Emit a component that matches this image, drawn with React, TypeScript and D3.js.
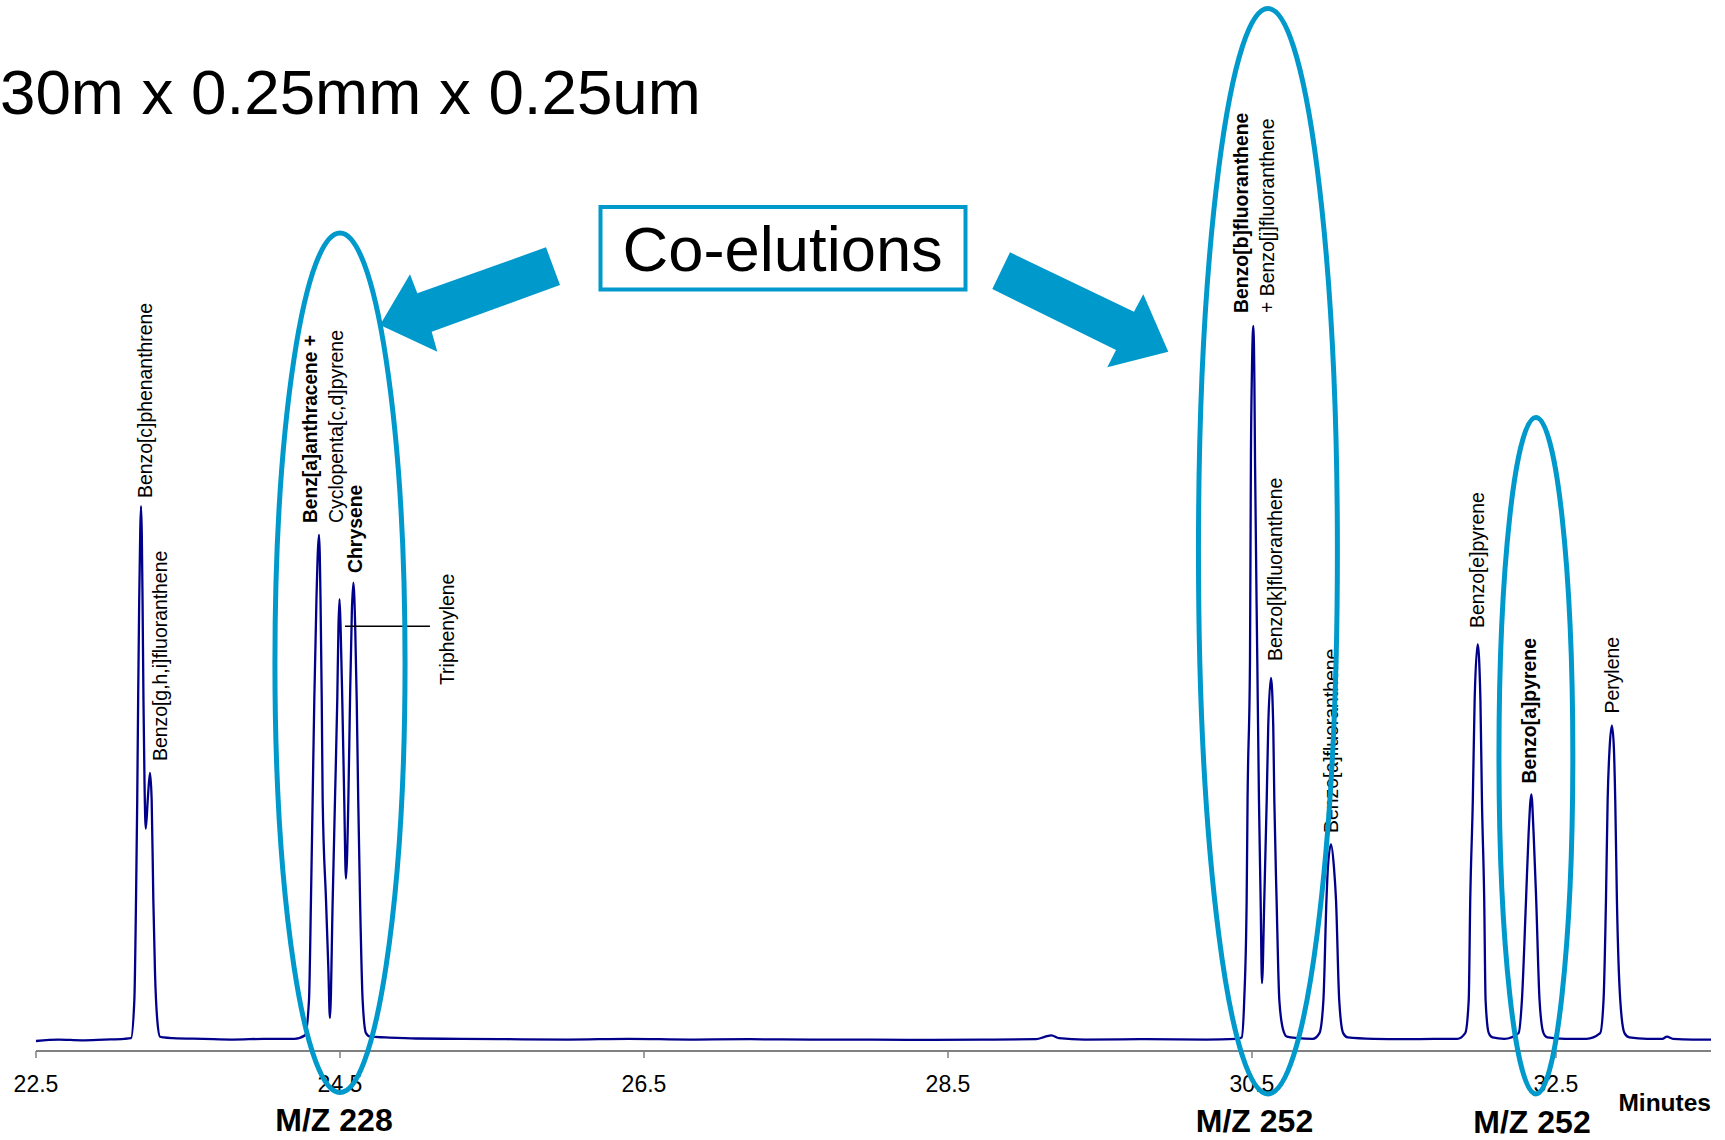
import React from 'react';
import * as d3 from 'd3';

// ---------- DATA ----------
const traceMinutes = [
  22.5, 22.65, 22.8, 22.95, 23.08,
  23.125, 23.147, 23.158, 23.166, 23.172, 23.179, 23.186, 23.191, 23.196, 23.201, 23.207, 23.214, 23.222,
  23.236, 23.25, 23.261, 23.272, 23.283, 23.298, 23.316, 23.34, 23.4, 23.6, 23.8, 24.0, 24.2,
  24.27, 24.296, 24.309, 24.32, 24.331, 24.345, 24.362, 24.372, 24.38, 24.386, 24.408, 24.423, 24.434,
  24.452, 24.467, 24.482, 24.49, 24.497, 24.505, 24.515, 24.528, 24.539,
  24.555, 24.566, 24.578, 24.588, 24.6, 24.61, 24.62, 24.632, 24.649, 24.671, 24.7, 24.8,
  25.0, 25.3, 25.6, 26.0, 26.4, 26.8, 27.2, 27.6, 28.0, 28.4, 28.8, 29.08, 29.14, 29.18, 29.23, 29.4, 29.8, 30.2, 30.4,
  30.432, 30.449, 30.465, 30.471, 30.487, 30.493, 30.5, 30.509, 30.516, 30.52, 30.535, 30.546, 30.557, 30.566,
  30.581, 30.597, 30.607, 30.625, 30.64, 30.647, 30.662, 30.68, 30.706, 30.73, 30.8, 30.9,
  30.944, 30.97, 30.99, 31.0, 31.02, 31.039, 31.053, 31.074, 31.1, 31.13, 31.3, 31.5, 31.7, 31.85,
  31.903, 31.926, 31.936, 31.953, 31.965, 31.985, 32.003, 32.013, 32.028, 32.037, 32.058, 32.083, 32.16,
  32.254, 32.276, 32.303, 32.32, 32.338, 32.353, 32.37, 32.392, 32.418, 32.443, 32.56, 32.7,
  32.791, 32.813, 32.829, 32.84, 32.853, 32.868, 32.881, 32.89, 32.901, 32.923, 32.951, 32.983,
  33.1, 33.2, 33.23, 33.27, 33.4, 33.52,
];
const traceSignal = [
  0.0, 0.2, 0.1, 0.2, 0.3,
  0.4, 5.7, 19.7, 33.7, 47.7, 61.7, 71.5, 74.8, 71.0, 61.7, 47.7, 36.0, 29.7,
  34.0, 37.5, 33.7, 19.7, 9.5, 2.9, 0.6, 0.5, 0.4, 0.3, 0.2, 0.3, 0.3,
  0.8, 5.7, 19.7, 33.7, 47.7, 61.7, 70.8, 61.7, 47.7, 33.7, 19.7, 10.4, 3.2,
  19.7, 33.7, 47.7, 58.0, 61.8, 57.0, 47.7, 33.7, 22.7,
  33.7, 47.7, 60.0, 64.1, 58.0, 47.7, 33.7, 19.7, 5.7, 1.1, 0.6, 0.5,
  0.35, 0.3, 0.25, 0.2, 0.3, 0.2, 0.25, 0.2, 0.2, 0.15, 0.2, 0.25, 0.6, 0.8, 0.4, 0.2, 0.25, 0.2, 0.3,
  0.5, 5.7, 19.7, 33.7, 53.3, 81.3, 94.0, 100.0, 92.0, 81.3, 53.3, 33.7, 19.7, 8.1,
  19.7, 33.7, 44.0, 50.8, 44.0, 33.7, 19.7, 5.7, 1.5, 0.6, 0.4, 0.3,
  1.1, 5.7, 19.7, 24.4, 27.5, 24.4, 19.7, 5.7, 1.1, 0.5, 0.3, 0.25, 0.3, 0.3,
  1.1, 5.7, 19.7, 33.7, 47.7, 55.5, 47.7, 33.7, 19.7, 5.7, 1.1, 0.5, 0.3,
  1.1, 5.7, 19.7, 29.0, 34.5, 29.0, 19.7, 5.7, 1.1, 0.5, 0.3, 0.3,
  1.1, 5.7, 19.7, 33.7, 41.0, 44.1, 41.0, 33.7, 19.7, 5.7, 1.1, 0.5,
  0.3, 0.3, 0.6, 0.3, 0.2, 0.2,
];

const tickValues = [22.5, 24.5, 26.5, 28.5, 30.5, 32.5];
const tickLabels = ['22.5', '24.5', '26.5', '28.5', '30.5', '32.5'];

const peakLabels = [
  'Benzo[c]phenanthrene',
  'Benzo[g,h,i]fluoranthene',
  'Benz[a]anthracene +',
  'Cyclopenta[c,d]pyrene',
  'Chrysene',
  'Triphenylene',
  'Benzo[b]fluoranthene',
  '+ Benzo[j]fluoranthene',
  'Benzo[k]fluoranthene',
  'Benzo[a]fluoranthene',
  'Benzo[e]pyrene',
  'Benzo[a]pyrene',
  'Perylene',
];
const peakLabelBold = [false, false, true, false, true, false, true, false, false, false, false, true, false];

const massLabels = ['M/Z 228', 'M/Z 252', 'M/Z 252'];
const titleText = '30m x 0.25mm x 0.25um';
const calloutText = 'Co-elutions';
const axisTitle = 'Minutes';

// ---------- LAYOUT ----------
const W = 1725;
const H = 1140;
const FONT = "'Liberation Sans', Arial, Helvetica, sans-serif";
const TRACE = '#00008a';
const CYAN = '#0099cc';
const AXIS_Y = 1051;

// rotated label anchors: [x of baseline, y of text start]
const labelPos: [number, number][] = [
  [152, 498],
  [166.5, 761],
  [316.5, 523],
  [343, 523],
  [362, 573],
  [454, 685],
  [1247.5, 313],
  [1273.5, 313],
  [1282, 661],
  [1338, 833],
  [1483.5, 628],
  [1536, 783.5],
  [1618.5, 713.5],
];
const labelLen: (number | null)[] = [null, null, 188, null, null, null, null, null, null, null, null, null, null];

// ellipses in data units: [centre minutes, half-width minutes, centre signal, half-height signal]
const ellipses: [number, number, number, number][] = [
  [24.5, 0.428, 52.9, 60.1],
  [30.605, 0.457, 68.5, 75.9],
  [32.368, 0.243, 39.9, 47.3],
];

const massPos: [number, number][] = [
  [334, 1131],
  [1254.5, 1132],
  [1532, 1133],
];

const leftArrow = [[546, 247.3], [560, 285], [431.7, 331.7], [437.3, 351.7], [380, 325], [410, 274.3], [417.3, 293.3]];
const rightArrow = [[1010, 252.3], [992.3, 289], [1116, 350], [1107.3, 367.3], [1168.3, 351.7], [1143.3, 294.3], [1134, 311.7]];

export default function App() {
  const x = d3.scaleLinear().domain([22.5, 33.52]).range([36, 1711]);
  const y = d3.scaleLinear().domain([0, 100]).range([1041, 326]);

  const line = d3
    .line<number>()
    .x((_, i) => x(traceMinutes[i]))
    .y((d) => y(d))
    .curve(d3.curveMonotoneX);
  const path = line(traceSignal) || '';

  const pxPerMin = x(1) - x(0);
  const pxPerUnit = y(0) - y(1);

  return (
    <svg
      width={W}
      height={H}
      viewBox={`0 0 ${W} ${H}`}
      style={{ position: 'absolute', left: 0, top: 0, display: 'block', background: '#fff' }}
      fontFamily={FONT}
    >
      <rect x={0} y={0} width={W} height={H} fill="#fff" />

      {/* title */}
      <text x={0} y={114} fontSize={63.7} fill="#000">
        {titleText}
      </text>

      {/* axis */}
      <line x1={x(22.5)} x2={x(33.52)} y1={AXIS_Y} y2={AXIS_Y} stroke="#808080" strokeWidth={2} />
      {tickValues.map((t, i) => (
        <g key={t}>
          <line x1={x(t)} x2={x(t)} y1={AXIS_Y} y2={AXIS_Y + 7} stroke="#808080" strokeWidth={1.5} />
          <text x={x(t)} y={1092} fontSize={23} textAnchor="middle" fill="#000">
            {tickLabels[i]}
          </text>
        </g>
      ))}
      <text x={1711} y={1111} fontSize={24.5} fontWeight="bold" textAnchor="end" fill="#000">
        {axisTitle}
      </text>

      {/* trace */}
      <path d={path} fill="none" stroke={TRACE} strokeWidth={2.3} strokeLinejoin="round" />

      {/* triphenylene leader */}
      <line x1={x(24.533)} x2={x(25.092)} y1={y(58)} y2={y(58)} stroke="#000" strokeWidth={1.5} />

      {/* peak labels */}
      {peakLabels.map((s, i) => {
        const [lx, ly] = labelPos[i];
        const len = labelLen[i];
        return (
          <text
            key={s}
            transform={`translate(${lx},${ly}) rotate(-90)`}
            fontSize={19.4}
            fontWeight={peakLabelBold[i] ? 'bold' : 'normal'}
            fill="#000"
            {...(len ? { textLength: len, lengthAdjust: 'spacingAndGlyphs' } : {})}
          >
            {s}
          </text>
        );
      })}

      {/* ellipses */}
      {ellipses.map(([cm, rm, cs, rs], i) => (
        <ellipse
          key={i}
          cx={x(cm)}
          cy={y(cs)}
          rx={rm * pxPerMin}
          ry={rs * pxPerUnit}
          fill="none"
          stroke={CYAN}
          strokeWidth={5}
        />
      ))}

      {/* mass labels */}
      {massLabels.map((s, i) => (
        <text key={i} x={massPos[i][0]} y={massPos[i][1]} fontSize={32} fontWeight="bold" textAnchor="middle" fill="#000">
          {s}
        </text>
      ))}

      {/* callout */}
      <rect x={600.5} y={207} width={365} height={82.5} fill="#fff" stroke={CYAN} strokeWidth={4} />
      <text x={782.7} y={271} fontSize={63.3} textAnchor="middle" fill="#000">
        {calloutText}
      </text>
      <polygon points={leftArrow.map((p) => p.join(',')).join(' ')} fill={CYAN} />
      <polygon points={rightArrow.map((p) => p.join(',')).join(' ')} fill={CYAN} />
    </svg>
  );
}
